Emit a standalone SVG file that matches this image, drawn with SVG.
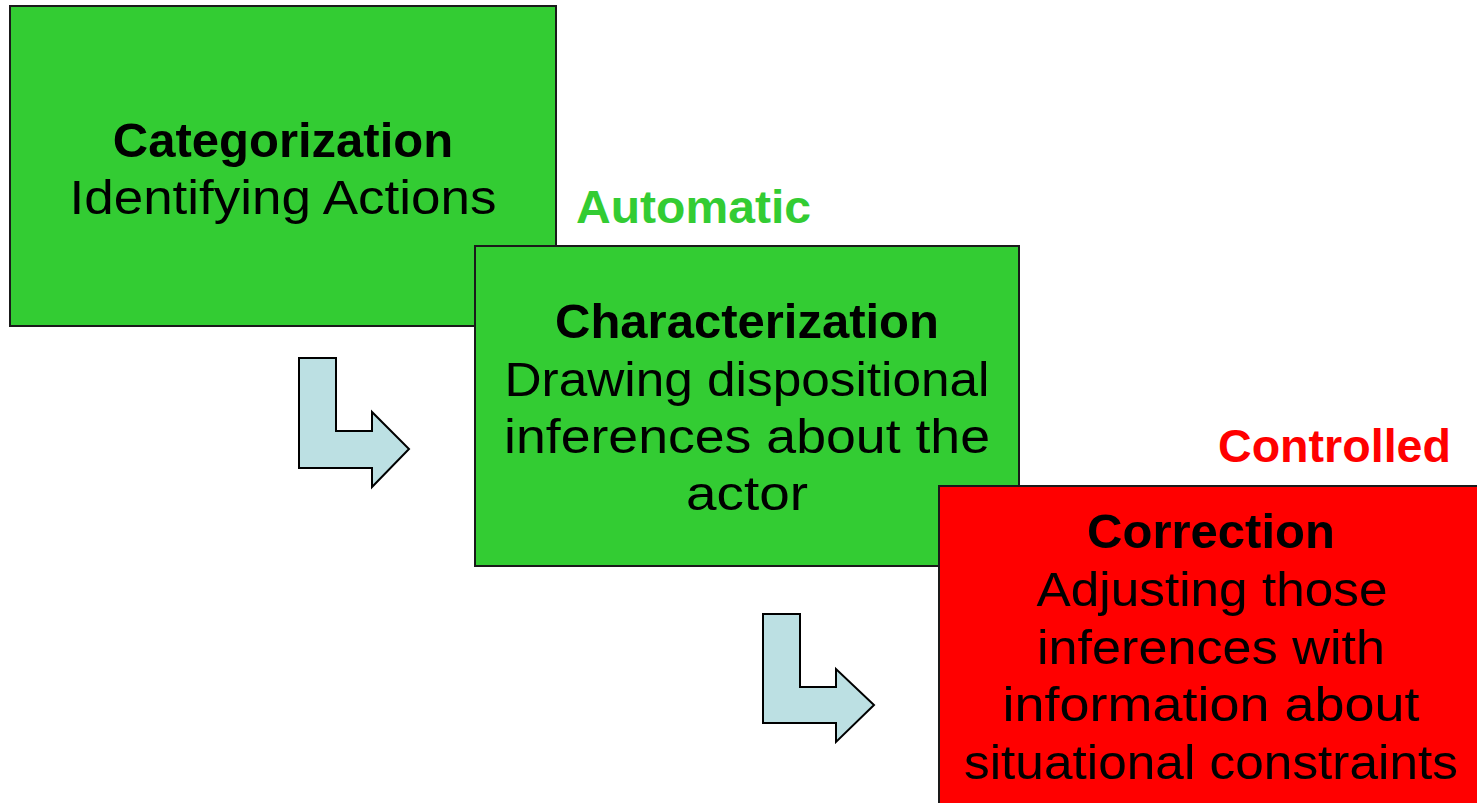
<svg xmlns="http://www.w3.org/2000/svg" width="1477" height="803" viewBox="0 0 1477 803">
<style>
.box{stroke:#1a1a1a;stroke-width:2}
.green{fill:#33CC33}
.red{fill:#FF0000}
.arrow{fill:#BCE0E3;stroke:#000;stroke-width:2;stroke-linejoin:miter}
.t{font-family:"Liberation Sans",Arial,sans-serif;font-size:49px;text-anchor:middle;fill:#000}
.b{font-weight:bold;font-size:49px}
.lbl{font-family:"Liberation Sans",Arial,sans-serif;font-weight:bold;font-size:47px}
</style>
<rect width="1477" height="803" fill="#fff"/>
<g id="node-categorization">
<rect class="box green" x="10" y="6" width="546" height="320"/>
<text class="t b" x="283" y="157">Categorization</text>
<text class="t" x="283" y="214" textLength="427" lengthAdjust="spacingAndGlyphs">Identifying Actions</text>
</g>
<text id="label-automatic" class="lbl" x="576" y="223" fill="#33CC33" textLength="235" lengthAdjust="spacingAndGlyphs">Automatic</text>
<g id="node-characterization">
<rect class="box green" x="475" y="246" width="544" height="320"/>
<text class="t b" x="747" y="338">Characterization</text>
<text class="t" x="747" y="396" textLength="485" lengthAdjust="spacingAndGlyphs">Drawing dispositional</text>
<text class="t" x="747" y="453" textLength="486" lengthAdjust="spacingAndGlyphs">inferences about the</text>
<text class="t" x="747" y="510" textLength="122" lengthAdjust="spacingAndGlyphs">actor</text>
</g>
<text id="label-controlled" class="lbl" x="1218" y="462" fill="#FF0000" textLength="233" lengthAdjust="spacingAndGlyphs">Controlled</text>
<g id="node-correction">
<rect class="box red" x="939" y="486" width="546" height="322"/>
<text class="t b" x="1211" y="548">Correction</text>
<text class="t" x="1212" y="606" textLength="351" lengthAdjust="spacingAndGlyphs">Adjusting those</text>
<text class="t" x="1211" y="664" textLength="348" lengthAdjust="spacingAndGlyphs">inferences with</text>
<text class="t" x="1211" y="721" textLength="417" lengthAdjust="spacingAndGlyphs">information about</text>
<text class="t" x="1211" y="779" textLength="494" lengthAdjust="spacingAndGlyphs">situational constraints</text>
</g>
<g id="connectors">
<polygon class="arrow" points="299,358 336,358 336,431 372,431 372,412 409,449 372,487 372,468 299,468"/>
<polygon class="arrow" points="763,614 800,614 800,687 836,687 836,669 874,705 836,742 836,723 763,723"/>
</g>
</svg>
